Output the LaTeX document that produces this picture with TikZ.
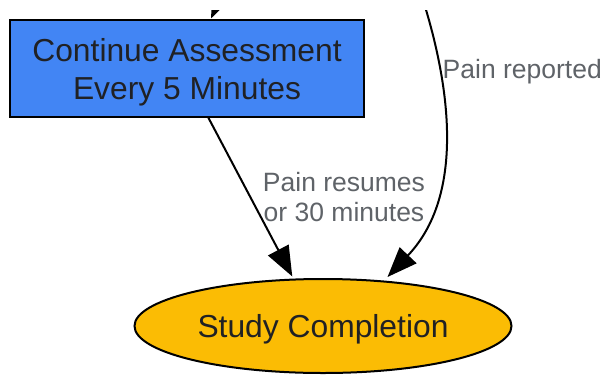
\documentclass[tikz,border=0pt]{standalone}
\usepackage{fontspec}
\setmainfont{Liberation Sans}
\usetikzlibrary{arrows.meta,shapes.geometric}
\definecolor{boxblue}{HTML}{4285F4}
\definecolor{donegold}{HTML}{FBBC04}
\definecolor{inktext}{HTML}{202124}
\definecolor{labelgray}{HTML}{5F6368}
\tikzset{
  procbox/.style={draw=black, line width=2pt, fill=boxblue, rectangle, inner sep=0pt},
  endoval/.style={draw=black, line width=2pt, fill=donegold, ellipse, inner sep=0pt},
  nodetext/.style={inner sep=0pt, anchor=base, text=inktext, font=\fontsize{31.8}{38}\selectfont},
  edgelabel/.style={inner sep=0pt, anchor=base, text=labelgray, font=\fontsize{26.5}{29}\selectfont},
  flow/.style={draw=black, line width=2pt, -{Triangle[length=30pt,width=23pt]}},
}
\begin{document}
\begin{tikzpicture}[x=1pt,y=-1pt]
\useasboundingbox (0,0) rectangle (604,375);
\node[procbox, minimum width=354pt, minimum height=97pt] (assess) at (187,68.5) {};
\node[nodetext] (assessA) at (187,61) {Continue Assessment};
\node[nodetext] (assessB) at (187,99) {Every 5 Minutes};
\node[endoval, minimum width=377pt, minimum height=94pt] (done) at (323,326) {};
\node[nodetext] (doneT) at (323,337.5) {Study Completion};
\coordinate (tipA) at (292.3,276.5);
\coordinate (tipB) at (387.5,277);
\coordinate (tipTop) at (211,18.5);
\coordinate (srcTop) at (244,-55);
\coordinate (srcRight) at (423,0);
\coordinate (srcLeft) at (208,117);
\begin{scope}
\clip (0,10) rectangle (604,375);
\draw[flow] (srcTop) -- (tipTop);
\draw[flow] (srcRight) .. controls (445,70) and (470,190) .. (tipB);
\end{scope}
\draw[flow] (srcLeft) -- (tipA);
\node[edgelabel, anchor=base west] (lblReported) at (442.5,78.5) {Pain reported};
\node[edgelabel] (lblResumes) at (344,191) {Pain resumes};
\node[edgelabel] (lblThirty) at (344,221.5) {or 30 minutes};
\end{tikzpicture}
\end{document}
